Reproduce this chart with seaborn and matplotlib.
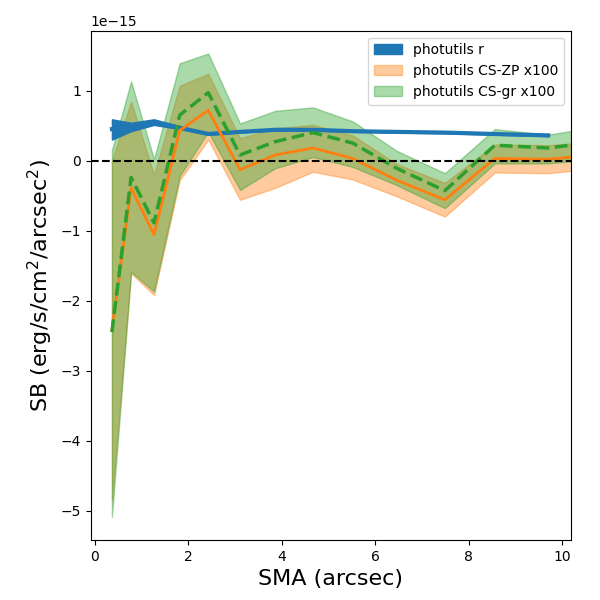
import numpy as np
import pandas as pd
import seaborn as sns
import matplotlib
matplotlib.use("Agg")
import matplotlib.pyplot as plt

# SMA grid (arcsec)
sma = [0.37, 0.78, 1.27, 1.82, 2.43, 3.11, 3.86, 4.67, 5.52, 6.46, 7.49, 8.56, 9.70, 10.9]

# photutils r profile (units of 1e-15)
r_mid = [0.45, 0.48, 0.55, 0.47, 0.38, 0.41, 0.44, 0.44, 0.42, 0.41, 0.40, 0.38, 0.36]
r_lo = [0.30, 0.42, 0.51, 0.45, 0.37, 0.40, 0.43, 0.43, 0.41, 0.40, 0.39, 0.37, 0.35]
r_hi = [0.59, 0.54, 0.59, 0.49, 0.39, 0.42, 0.45, 0.45, 0.43, 0.42, 0.41, 0.39, 0.37]

# CS-ZP x100
zp_mid = [-2.42, -0.39, -1.06, 0.43, 0.72, -0.13, 0.08, 0.18, 0.03, -0.28, -0.56, 0.03, 0.02, 0.09]
zp_lo = [-4.85, -1.61, -1.92, -0.28, 0.30, -0.56, -0.39, -0.16, -0.27, -0.51, -0.80, -0.17, -0.18, -0.10]
zp_hi = [0.00, 0.84, -0.20, 1.07, 1.24, 0.32, 0.46, 0.51, 0.36, -0.05, -0.32, 0.23, 0.22, 0.28]

# CS-gr x100
gr_mid = [-2.45, -0.24, -0.89, 0.65, 0.97, 0.08, 0.27, 0.40, 0.25, -0.11, -0.43, 0.22, 0.18, 0.28]
gr_lo = [-5.09, -1.59, -1.87, -0.22, 0.41, -0.42, -0.11, 0.05, -0.09, -0.35, -0.68, -0.04, -0.04, 0.03]
gr_hi = [0.15, 1.13, 0.02, 1.39, 1.53, 0.53, 0.71, 0.76, 0.56, 0.14, -0.18, 0.45, 0.37, 0.50]

scale = 1e-15
r_df = pd.DataFrame({"sma": sma[:len(r_mid)], "mid": r_mid, "lo": r_lo, "hi": r_hi})
zp_df = pd.DataFrame({"sma": sma, "mid": zp_mid, "lo": zp_lo, "hi": zp_hi})
gr_df = pd.DataFrame({"sma": sma, "mid": gr_mid, "lo": gr_lo, "hi": gr_hi})
for d in (r_df, zp_df, gr_df):
    d[["mid", "lo", "hi"]] *= scale

blue, orange, green = sns.color_palette("tab10")[:3]

fig, ax = plt.subplots(figsize=(6, 6), dpi=100)
fig.subplots_adjust(left=0.151, right=0.951, top=0.949, bottom=0.1)

ax.fill_between(zp_df["sma"], zp_df["lo"], zp_df["hi"], color=orange, alpha=0.4,
                label="photutils CS-ZP x100", zorder=1)
ax.fill_between(gr_df["sma"], gr_df["lo"], gr_df["hi"], color=green, alpha=0.4,
                label="photutils CS-gr x100", zorder=1)
ax.fill_between(r_df["sma"], r_df["lo"], r_df["hi"], color=blue, alpha=1.0,
                label="photutils r", zorder=2)

sns.lineplot(data=r_df, x="sma", y="mid", color=blue, lw=3, ax=ax, zorder=3)
sns.lineplot(data=zp_df, x="sma", y="mid", color=orange, lw=2, ax=ax, zorder=4)
sns.lineplot(data=gr_df, x="sma", y="mid", color=green, lw=2.5, ls="--", ax=ax, zorder=5)

ax.axhline(0, color="k", ls="--", lw=1.5, zorder=6)

ax.set_xlim(-0.086, 10.18)
ax.set_ylim(-5.42e-15, 1.857e-15)
ax.set_xlabel("SMA (arcsec)", fontsize=16)
ax.set_ylabel("SB (erg/s/cm$^2$/arcsec$^2$)", fontsize=16)

handles, labels = ax.get_legend_handles_labels()
order = ["photutils r", "photutils CS-ZP x100", "photutils CS-gr x100"]
hl = dict(zip(labels, handles))
ax.legend([hl[k] for k in order], order, loc="upper right", fontsize=10)

fig.savefig("out.png", dpi=100)
